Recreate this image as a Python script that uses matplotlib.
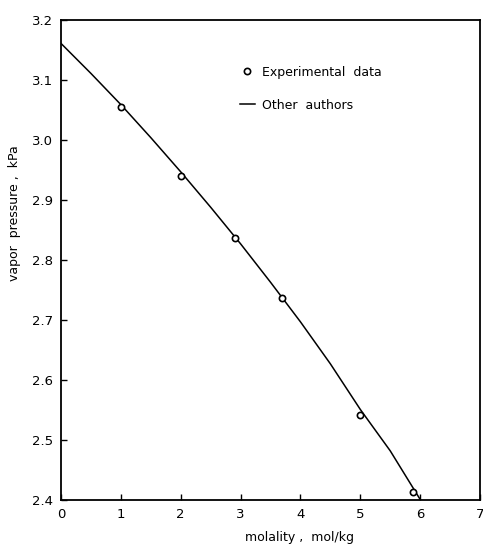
import numpy as np
import matplotlib.pyplot as plt

# Experimental points
exp_m = [1.0, 2.0, 2.9, 3.7, 5.0, 5.88]
exp_p = [3.055, 2.940, 2.837, 2.737, 2.542, 2.414]

# Curve from other authors (read at half-unit steps)
lit_m = [0.0, 0.5, 1.0, 1.5, 2.0, 2.5, 3.0, 3.5, 4.0, 4.5, 5.0, 5.5, 6.0]
lit_p = [3.161, 3.111, 3.059, 3.004, 2.947, 2.888, 2.827, 2.763, 2.697, 2.627, 2.551, 2.482, 2.401]

xticks = [0, 1, 2, 3, 4, 5, 6, 7]
yticks = [2.4, 2.5, 2.6, 2.7, 2.8, 2.9, 3.0, 3.1, 3.2]

fig = plt.figure(figsize=(4.83, 5.47), dpi=100)
ax = fig.add_axes([0.1263, 0.0859, 0.8675, 0.8775])

ax.plot(exp_m, exp_p, 'o', mfc='white', mec='black', ms=4.5, mew=1.2,
        ls='none', label='Experimental  data', zorder=3)
ax.plot(lit_m, lit_p, '-', color='black', lw=1.1, label='Other  authors')

ax.set_xlim(0, 7)
ax.set_ylim(2.4, 3.2)
ax.set_xticks(xticks)
ax.set_yticks(yticks)
ax.set_xticklabels([str(t) for t in xticks])
ax.set_yticklabels(['%.1f' % t for t in yticks])
ax.tick_params(direction='in', length=4, width=1, labelsize=9.5, pad=6)

for s in ax.spines.values():
    s.set_linewidth(1.3)

ax.set_xlabel('molality ,  mol/kg', fontsize=9)
ax.xaxis.set_label_coords(0.57, -0.065)
ax.set_ylabel('vapor  pressure ,  kPa', fontsize=9)
ax.yaxis.set_label_coords(-0.095, 0.598)

ax.legend(loc='upper left', bbox_to_anchor=(0.40, 0.928), frameon=False,
          fontsize=9, handlelength=1.2, handletextpad=0.6, labelspacing=1.6)

fig.savefig('out.png', dpi=100)
